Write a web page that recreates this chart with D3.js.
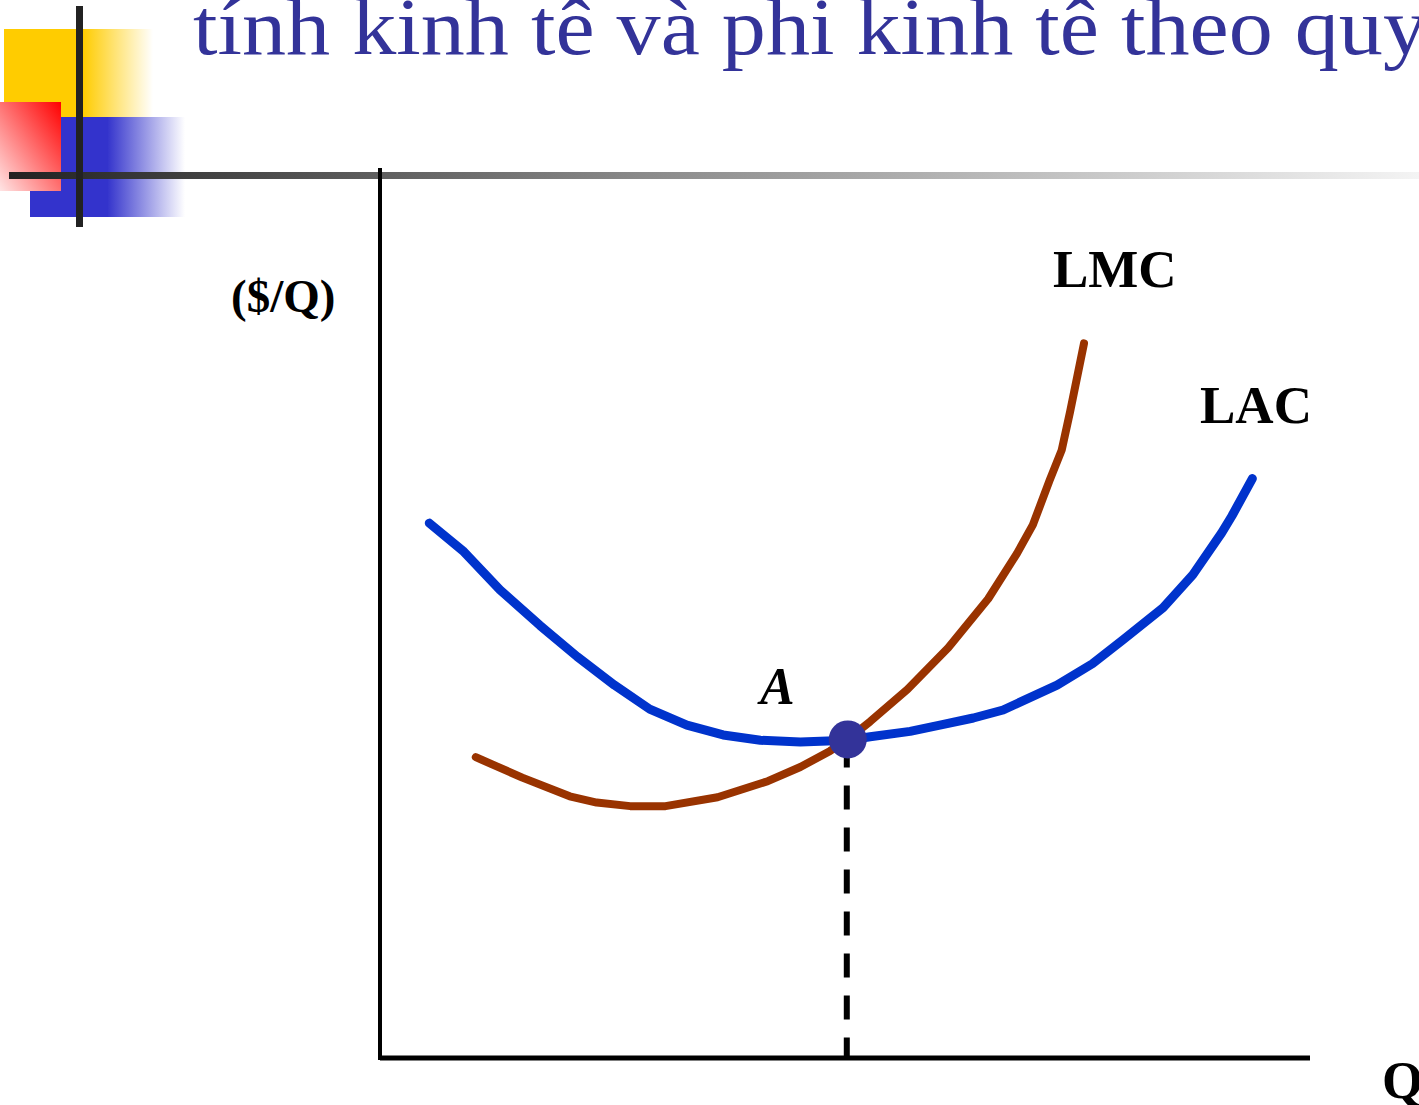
<!DOCTYPE html>
<html>
<head>
<meta charset="utf-8">
<script src="https://cdn.jsdelivr.net/npm/d3@7"></script>
<style>
  body { margin: 0; background: #fff; overflow: hidden; }
  svg { display: block; }
</style>
</head>
<body>
<svg id="chart" width="1419" height="1105"></svg>
<script>
// values (Q on x, $/Q on y, both 0..100)
var lacQ = [5.3, 8.9, 12.9, 17.2, 21.2, 25.2, 29.0, 33.0, 36.9, 40.9, 45.2, 50.3, 52.7, 57.0, 60.2, 63.8, 67.0, 72.8, 76.6, 79.9, 84.2, 87.4, 90.5, 91.6, 93.8];
var lacC = [60.1, 57.0, 52.6, 48.6, 45.1, 41.9, 39.2, 37.4, 36.3, 35.7, 35.5, 35.7, 36.1, 36.7, 37.4, 38.2, 39.1, 41.9, 44.3, 47.0, 50.6, 54.3, 59.0, 60.9, 65.1];

var lmcQ = [10.3, 15.3, 20.4, 23.3, 26.9, 30.7, 36.3, 41.7, 45.2, 48.4, 50.3, 52.7, 56.7, 61.1, 65.4, 68.5, 70.2, 72.0, 73.3, 74.2, 75.7];
var lmcC = [33.8, 31.5, 29.4, 28.7, 28.3, 28.3, 29.3, 31.1, 32.7, 34.5, 35.8, 37.8, 41.4, 46.1, 51.6, 56.7, 59.9, 64.9, 68.3, 72.6, 80.3];

var pointA = [50.3, 35.8];

var titleText = "tính kinh tê và phi kinh tê theo quy";
var yLabel = "($/Q)";
var xLabel = "Q";

var svg = d3.select("#chart");
var defs = svg.append("defs");

// slide decoration
function fadeGrad(id, col) {
  var g = defs.append("linearGradient").attr("id", id);
  g.append("stop").attr("offset", "0%").attr("stop-color", col).attr("stop-opacity", 1);
  g.append("stop").attr("offset", "100%").attr("stop-color", col).attr("stop-opacity", 0);
}
fadeGrad("yfade", "#ffcc00");
fadeGrad("bfade", "#3333cc");

var rg = defs.append("linearGradient").attr("id", "rfade")
  .attr("x1", "100%").attr("y1", "0%").attr("x2", "0%").attr("y2", "100%");
rg.append("stop").attr("offset", "0%").attr("stop-color", "#ff0000");
rg.append("stop").attr("offset", "100%").attr("stop-color", "#ffe4e4");

var lg = defs.append("linearGradient").attr("id", "linefade")
  .attr("gradientUnits", "userSpaceOnUse")
  .attr("x1", 9).attr("x2", 1419).attr("y1", 0).attr("y2", 0);
lg.append("stop").attr("offset", "0%").attr("stop-color", "#222");
lg.append("stop").attr("offset", "45%").attr("stop-color", "#8a8a8a");
lg.append("stop").attr("offset", "100%").attr("stop-color", "#f4f4f4");

var deco = svg.append("g");
deco.append("rect").attr("x", 4).attr("y", 29).attr("width", 80).attr("height", 88).attr("fill", "#ffcc00");
deco.append("rect").attr("x", 83).attr("y", 29).attr("width", 70).attr("height", 88).attr("fill", "url(#yfade)");
deco.append("rect").attr("x", 30).attr("y", 117).attr("width", 78).attr("height", 100).attr("fill", "#3333cc");
deco.append("rect").attr("x", 107).attr("y", 117).attr("width", 78).attr("height", 100).attr("fill", "url(#bfade)");
deco.append("rect").attr("x", 0).attr("y", 102).attr("width", 61).attr("height", 89).attr("fill", "url(#rfade)");
deco.append("rect").attr("x", 9).attr("y", 172).attr("width", 1410).attr("height", 7).attr("fill", "url(#linefade)");
deco.append("rect").attr("x", 76).attr("y", 6).attr("width", 7).attr("height", 221).attr("fill", "#222");

svg.append("text")
  .attr("x", 193).attr("y", 54)
  .attr("textLength", 1234).attr("lengthAdjust", "spacingAndGlyphs")
  .style("font-family", "'Liberation Serif', 'Times New Roman', serif")
  .style("font-size", "80px")
  .attr("fill", "#333399")
  .text(titleText);

// chart
var x = d3.scaleLinear().domain([0, 100]).range([380, 1310]);
var y = d3.scaleLinear().domain([0, 100]).range([1058, 168]);

var line = d3.line()
  .x(function(d) { return x(d[0]); })
  .y(function(d) { return y(d[1]); });

var lac = lacQ.map(function(q, i) { return [q, lacC[i]]; });
var lmc = lmcQ.map(function(q, i) { return [q, lmcC[i]]; });

// axes
svg.append("line")
  .attr("x1", x(0)).attr("x2", x(0)).attr("y1", y(100)).attr("y2", y(0) + 2)
  .attr("stroke", "#000").attr("stroke-width", 4);
svg.append("line")
  .attr("x1", x(0)).attr("x2", x(100)).attr("y1", y(0)).attr("y2", y(0))
  .attr("stroke", "#000").attr("stroke-width", 5);

// dashed drop line from A
svg.append("line")
  .attr("x1", x(pointA[0]) - 1).attr("x2", x(pointA[0]) - 1)
  .attr("y1", y(pointA[1]) + 4).attr("y2", y(0))
  .attr("stroke", "#000").attr("stroke-width", 6)
  .attr("stroke-dasharray", "24,18");

svg.append("path").datum(lmc)
  .attr("d", line)
  .attr("fill", "none").attr("stroke", "#993300")
  .attr("stroke-width", 8).attr("stroke-linecap", "round").attr("stroke-linejoin", "round");

svg.append("path").datum(lac)
  .attr("d", line)
  .attr("fill", "none").attr("stroke", "#0033cc")
  .attr("stroke-width", 9).attr("stroke-linecap", "round").attr("stroke-linejoin", "round");

svg.append("circle")
  .attr("cx", x(pointA[0])).attr("cy", y(pointA[1]))
  .attr("r", 19).attr("fill", "#333399");

// labels
var serif = "'Liberation Serif', 'Times New Roman', serif";
function label(txt, px, py, size, italic) {
  svg.append("text")
    .attr("x", px).attr("y", py)
    .style("font-family", serif)
    .style("font-weight", "bold")
    .style("font-style", italic ? "italic" : "normal")
    .style("font-size", size + "px")
    .attr("fill", "#000")
    .text(txt);
}
label("LMC", 1053, 287, 53);
label("LAC", 1200, 423, 53);
label(yLabel, 231, 312, 47);
label("A", 760, 704, 52, true);
label(xLabel, 1382, 1098, 53);
</script>
</body>
</html>
